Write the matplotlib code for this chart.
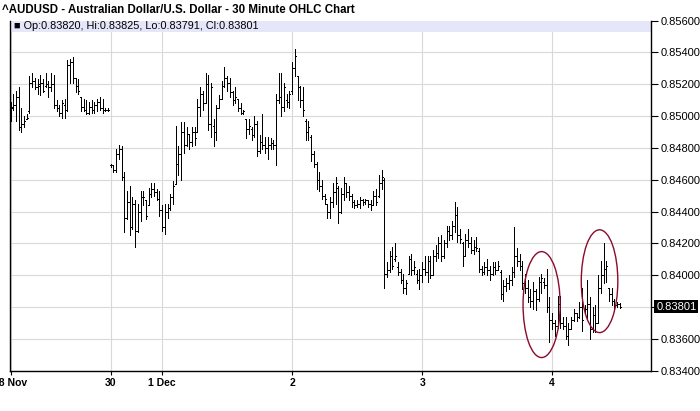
import matplotlib
matplotlib.use("Agg")
import matplotlib.pyplot as plt
import matplotlib.transforms as mtransforms
from matplotlib.collections import LineCollection
from matplotlib.patches import Ellipse, Rectangle
import numpy as np

plt.rcParams['font.family'] = ['Liberation Sans', 'DejaVu Sans']

# 30 minute bars as (open, high, low, close), in units of 0.0001
nov28 = [
    (8500, 8509, 8497, 8505), (8506, 8514, 8504, 8507), (8507, 8516, 8497, 8512), (8512, 8518, 8491, 8493),
    (8493, 8505, 8490, 8495), (8495, 8500, 8493, 8497), (8498, 8501, 8498, 8499), (8503, 8525, 8502, 8521),
    (8521, 8527, 8518, 8522), (8522, 8524, 8517, 8518), (8518, 8523, 8514, 8520), (8519, 8526, 8513, 8521),
    (8521, 8523, 8515, 8516), (8519, 8527, 8518, 8520), (8520, 8522, 8512, 8518), (8518, 8527, 8516, 8520),
    (8520, 8526, 8505, 8507), (8507, 8510, 8503, 8505), (8505, 8507, 8500, 8502), (8502, 8510, 8499, 8508),
    (8507, 8511, 8499, 8504), (8504, 8535, 8503, 8532), (8532, 8536, 8521, 8534), (8534, 8537, 8521, 8524),
    (8524, 8524, 8515, 8519), (8519, 8523, 8514, 8516), (8512, 8512, 8503, 8506), (8506, 8511, 8503, 8504),
    (8504, 8510, 8501, 8502), (8502, 8509, 8501, 8506), (8506, 8510, 8502, 8504), (8504, 8509, 8502, 8507),
    (8507, 8511, 8503, 8509), (8509, 8512, 8504, 8505), (8505, 8511, 8502, 8504), (8504, 8505, 8503, 8504),
    (8504, 8505, 8503, 8504),
]
nov30 = [
    (8469, 8470, 8468, 8469), (8469, 8469, 8465, 8466), (8466, 8479, 8465, 8476), (8476, 8482, 8473, 8479),
    (8479, 8481, 8460, 8462), (8462, 8465, 8427, 8436), (8436, 8453, 8435, 8446), (8446, 8456, 8425, 8430),
    (8430, 8449, 8429, 8445), (8445, 8447, 8418, 8428), (8428, 8445, 8427, 8440), (8440, 8453, 8434, 8449),
    (8449, 8453, 8444, 8449), (8447, 8447, 8435, 8437), (8444, 8455, 8444, 8451), (8451, 8458, 8449, 8454),
    (8454, 8458, 8450, 8452), (8452, 8454, 8447, 8448), (8448, 8453, 8437, 8441),
]
dec1 = [
    (8441, 8444, 8428, 8430), (8430, 8445, 8426, 8440), (8440, 8445, 8436, 8442), (8442, 8451, 8441, 8449),
    (8449, 8459, 8445, 8456), (8457, 8494, 8457, 8470), (8470, 8481, 8463, 8476), (8476, 8496, 8460, 8490),
    (8490, 8496, 8477, 8482), (8482, 8493, 8481, 8489), (8489, 8489, 8479, 8484), (8484, 8493, 8481, 8490),
    (8490, 8493, 8482, 8486), (8490, 8511, 8490, 8506), (8506, 8518, 8500, 8514), (8514, 8516, 8504, 8508),
    (8508, 8527, 8508, 8520), (8520, 8526, 8491, 8495), (8495, 8521, 8487, 8518), (8494, 8498, 8481, 8490),
    (8490, 8507, 8485, 8505), (8505, 8513, 8505, 8511), (8511, 8522, 8511, 8519), (8519, 8531, 8518, 8524),
    (8524, 8525, 8516, 8521), (8521, 8524, 8512, 8515), (8515, 8516, 8507, 8510), (8510, 8518, 8508, 8512),
    (8511, 8511, 8503, 8505), (8505, 8508, 8501, 8502), (8502, 8504, 8501, 8503), (8498, 8498, 8486, 8492),
    (8492, 8498, 8489, 8494), (8492, 8493, 8485, 8488), (8488, 8500, 8487, 8495), (8495, 8497, 8475, 8478),
    (8478, 8488, 8477, 8484), (8484, 8501, 8479, 8482), (8482, 8487, 8477, 8480), (8480, 8487, 8473, 8482),
    (8482, 8486, 8479, 8483), (8483, 8485, 8479, 8482), (8482, 8514, 8469, 8510), (8510, 8527, 8508, 8512),
    (8512, 8527, 8500, 8506), (8506, 8521, 8503, 8518), (8510, 8514, 8506, 8509), (8509, 8516, 8505, 8514),
]
dec2 = [
    (8516, 8534, 8514, 8530), (8530, 8542, 8525, 8538), (8525, 8525, 8510, 8518), (8518, 8519, 8506, 8510),
    (8510, 8518, 8500, 8504), (8497, 8498, 8485, 8490), (8490, 8497, 8485, 8493), (8487, 8488, 8472, 8476),
    (8476, 8478, 8468, 8470), (8470, 8471, 8454, 8460), (8460, 8465, 8453, 8456), (8456, 8460, 8448, 8450),
    (8450, 8451, 8445, 8448), (8445, 8445, 8436, 8440), (8440, 8449, 8436, 8446), (8446, 8458, 8443, 8452),
    (8452, 8462, 8445, 8458), (8455, 8456, 8433, 8440), (8440, 8455, 8439, 8451), (8451, 8462, 8447, 8458),
    (8458, 8458, 8449, 8452), (8452, 8456, 8447, 8450), (8450, 8451, 8443, 8446), (8446, 8447, 8442, 8444),
    (8444, 8447, 8443, 8445), (8445, 8449, 8442, 8447), (8447, 8448, 8444, 8446), (8446, 8448, 8445, 8447),
    (8447, 8447, 8443, 8445), (8445, 8447, 8441, 8444), (8444, 8453, 8444, 8450), (8450, 8454, 8444, 8446),
    (8450, 8463, 8449, 8458), (8458, 8466, 8454, 8462), (8460, 8461, 8392, 8401), (8401, 8408, 8399, 8403),
    (8403, 8415, 8402, 8412), (8412, 8418, 8404, 8406), (8410, 8420, 8409, 8412), (8405, 8408, 8400, 8402),
    (8402, 8404, 8395, 8397), (8397, 8401, 8389, 8392), (8392, 8397, 8388, 8395), (8401, 8412, 8401, 8410),
    (8410, 8413, 8400, 8403), (8403, 8409, 8401, 8405), (8401, 8403, 8395, 8397), (8397, 8404, 8391, 8400),
]
dec3 = [
    (8400, 8408, 8396, 8404), (8404, 8412, 8400, 8402), (8402, 8412, 8396, 8409), (8409, 8412, 8398, 8400),
    (8400, 8416, 8400, 8412), (8412, 8419, 8409, 8414), (8414, 8424, 8411, 8420), (8420, 8425, 8409, 8412),
    (8412, 8422, 8411, 8420), (8420, 8431, 8418, 8428), (8428, 8431, 8422, 8425), (8425, 8434, 8423, 8431),
    (8431, 8446, 8427, 8438), (8438, 8443, 8421, 8425), (8425, 8429, 8420, 8423), (8420, 8421, 8406, 8412),
    (8412, 8426, 8412, 8422), (8422, 8429, 8418, 8420), (8420, 8424, 8414, 8416), (8416, 8422, 8413, 8418),
    (8418, 8424, 8415, 8417), (8415, 8417, 8402, 8404), (8404, 8406, 8400, 8402), (8402, 8408, 8401, 8405),
    (8405, 8410, 8400, 8403), (8403, 8406, 8397, 8401), (8401, 8408, 8400, 8405), (8405, 8408, 8401, 8403),
    (8403, 8409, 8403, 8406), (8402, 8403, 8385, 8388), (8388, 8397, 8384, 8393), (8393, 8398, 8390, 8395),
    (8395, 8400, 8391, 8397), (8397, 8405, 8394, 8402), (8402, 8430, 8399, 8412), (8412, 8417, 8406, 8409),
    (8409, 8413, 8403, 8406), (8406, 8409, 8391, 8395), (8395, 8401, 8389, 8392), (8392, 8397, 8383, 8386),
    (8386, 8391, 8380, 8384), (8384, 8396, 8379, 8390), (8390, 8391, 8378, 8385), (8385, 8399, 8384, 8396),
    (8396, 8401, 8389, 8398), (8396, 8398, 8392, 8394), (8394, 8404, 8377, 8380), (8380, 8386, 8358, 8372),
]
dec4 = [
    (8372, 8376, 8366, 8370), (8370, 8372, 8362, 8368), (8368, 8387, 8367, 8382), (8382, 8387, 8367, 8370),
    (8370, 8374, 8366, 8368), (8368, 8374, 8360, 8362), (8362, 8370, 8356, 8366), (8366, 8374, 8366, 8372),
    (8372, 8379, 8371, 8376), (8376, 8376, 8371, 8374), (8374, 8383, 8373, 8380), (8380, 8392, 8365, 8372),
    (8378, 8381, 8377, 8379), (8379, 8397, 8373, 8382), (8382, 8386, 8360, 8366), (8366, 8380, 8364, 8375),
    (8375, 8381, 8364, 8370), (8370, 8400, 8370, 8392), (8392, 8409, 8389, 8400), (8400, 8420, 8395, 8404),
    (8404, 8409, 8396, 8406), (8392, 8392, 8384, 8388), (8388, 8392, 8381, 8384), (8384, 8385, 8379, 8381),
    (8381, 8383, 8380, 8382), (8382.0, 8382.5, 8379.1, 8380.1),
]
day_labels = ['28 Nov', '30', '1 Dec', '2', '3', '4']
last_quote = {'Op': 0.83820, 'Hi': 0.83825, 'Lo': 0.83791, 'Cl': 0.83801}

# highlighted areas: (bar index centre, price centre, width in bars, height in price)
circles = [(196.1, 0.83815, 13.7, 0.00666), (217.5, 0.83962, 13.5, 0.00646)]

days = [nov28, nov30, dec1, dec2, dec3, dec4]
bars = [b for d in days for b in d]
day_starts = np.cumsum([0] + [len(d) for d in days[:-1]])

fig = plt.figure(figsize=(7.0, 4.11), dpi=100)
ax = fig.add_axes([10 / 700, 1 - 370.6 / 411, 641 / 700, 350 / 411])

# vertical high-low lines and open/close ticks
vsegs, hsegs = [], []
for i, (o, h, l, c) in enumerate(bars):
    o, h, l, c = o / 1e4, h / 1e4, l / 1e4, c / 1e4
    vsegs.append([(i, l), (i, h)])
    hsegs.append([(i - 0.37, o), (i, o)])
    hsegs.append([(i, c), (i + 0.37, c)])
ax.add_collection(LineCollection(vsegs, colors='black', linewidths=0.72, antialiased=False, zorder=3))
ax.add_collection(LineCollection(hsegs, colors='black', linewidths=0.72, antialiased=False, zorder=3))

for cx, cy, w, hgt in circles:
    ax.add_patch(Ellipse((cx, cy), w, hgt, fill=False, edgecolor='#8b0b2c', linewidth=1.0, zorder=4))

ax.set_xlim(-0.2, 236.5)
ax.set_ylim(0.834, 0.856)

# header band with the last quote
ax.add_patch(Rectangle((0, 1 - 11.6 / 350), 1, 11.6 / 350, transform=ax.transAxes,
                       facecolor='#e6e6fa', edgecolor='none', zorder=2))
quote_txt = ', '.join(f'{k}:{v:.5f}' for k, v in last_quote.items())
ax.text(0.006, 1 - 5.8 / 350, '\u25a0 ' + quote_txt, transform=ax.transAxes,
        fontsize=7.8, va='center', ha='left', zorder=5)

yt = np.round(np.arange(0.834, 0.8561, 0.002), 3)
ax.set_yticks(yt)
# the 0.83800 label sits under the last-price marker
ax.set_yticklabels(['' if abs(v - last_quote['Cl']) < 0.0005 else f'{v:.5f}' for v in yt])
ax.yaxis.tick_right()
ax.tick_params(axis='y', direction='out', length=5, width=0.8, labelsize=8, pad=2, colors='black')

ax.set_xticks(day_starts)
ax.set_xticklabels(day_labels, fontweight='bold')
ax.tick_params(axis='x', direction='out', length=3, width=0.8, labelsize=7.5, pad=2)

ax.grid(True, color='#d9d9d9', linewidth=0.8, zorder=0)
ax.set_axisbelow(True)
ax.spines['top'].set_visible(False)
for s in ('left', 'right', 'bottom'):
    ax.spines[s].set_linewidth(1.0)
    ax.spines[s].set_color('black')

trans = mtransforms.blended_transform_factory(ax.transAxes, ax.transData)
ax.text(1.008, last_quote['Cl'], f"{last_quote['Cl']:.5f}", transform=trans, color='white',
        fontsize=8, va='center', ha='left', zorder=10, clip_on=False,
        bbox=dict(facecolor='black', edgecolor='none', pad=1.2))

fig.text(2 / 700, 1 - 10 / 411, '^AUDUSD - Australian Dollar/U.S. Dollar - 30 Minute OHLC Chart',
         fontsize=8.3, fontweight='bold', va='center', ha='left')

fig.savefig('out.png', dpi=100)
